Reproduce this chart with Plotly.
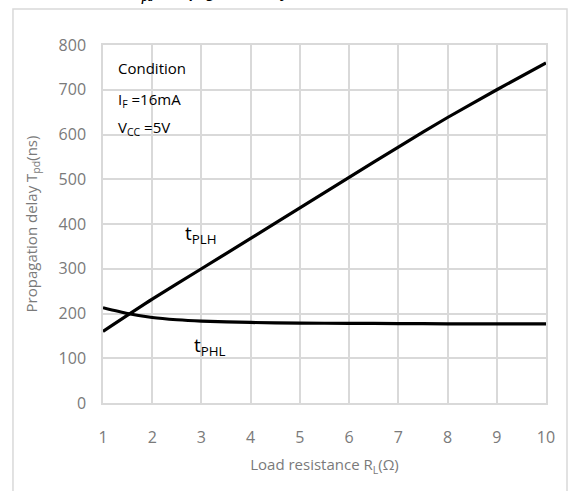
import plotly.graph_objects as go

r_load = [1, 2, 3, 4, 5, 6, 7, 8, 9, 10]
t_plh = [160, 232, 300, 368, 436, 504, 572, 638, 700, 760]
r_phl = [1, 1.5, 2, 2.5, 3, 4, 5, 6, 7, 8, 9, 10]
t_phl = [213, 200, 191, 186, 183, 180, 178.5, 178, 177.5, 177, 177, 177]

x_ticks = [1, 2, 3, 4, 5, 6, 7, 8, 9, 10]
y_ticks = [0, 100, 200, 300, 400, 500, 600, 700, 800]

fig = go.Figure()
fig.add_trace(go.Scatter(x=r_load, y=t_plh, mode="lines", line=dict(color="black", width=3.2, shape="spline", smoothing=0.6), name="tPLH"))
fig.add_trace(go.Scatter(x=r_phl, y=t_phl, mode="lines", line=dict(color="black", width=3.2, shape="spline", smoothing=0.6), name="tPHL"))

grid = "#d9d9d9"
gray = "#7a7a7a"
tickfont = dict(family="Open Sans", size=16, color=gray)
fig.update_layout(
    width=577, height=491,
    margin=dict(l=103, r=31, t=45, b=88),
    paper_bgcolor="white", plot_bgcolor="white",
    showlegend=False,
    xaxis=dict(range=[1, 10], tickvals=x_ticks, showgrid=True, gridcolor=grid, gridwidth=1.5,
               zeroline=False, showline=True, linecolor=grid, linewidth=1.5, mirror=True,
               tickfont=tickfont, ticks="", ticklabelstandoff=19,
               title=dict(text="Load resistance R<sub>L</sub>(Ω)", font=dict(family="Open Sans", size=15, color=gray), standoff=13)),
    yaxis=dict(range=[0, 800], tickvals=y_ticks, showgrid=True, gridcolor=grid, gridwidth=1.5,
               zeroline=False, showline=True, linecolor=grid, linewidth=1.5, mirror=True,
               tickfont=tickfont, ticks="", ticklabelstandoff=12,
               title=dict(text="Propagation delay T<sub>pd</sub>(ns)", font=dict(family="Open Sans", size=15, color=gray), standoff=17)),
)

txt = dict(family="Open Sans", size=15, color="black")
fig.add_annotation(x=1.27, y=748, text="Condition", showarrow=False, xanchor="left", font=txt)
fig.add_annotation(x=1.27, y=677, text="I<sub>F</sub> =16mA", showarrow=False, xanchor="left", font=txt)
fig.add_annotation(x=1.27, y=614, text="V<sub>CC</sub> =5V", showarrow=False, xanchor="left", font=txt)
fig.add_annotation(x=2.63, y=378, text="t<sub>PLH</sub>", showarrow=False, xanchor="left", font=dict(family="Open Sans", size=19, color="black"))
fig.add_annotation(x=2.8, y=128, text="t<sub>PHL</sub>", showarrow=False, xanchor="left", font=dict(family="Open Sans", size=19, color="black"))

fig.add_annotation(x=0.39, y=1.11, xref="paper", yref="paper", yanchor="bottom",
                   text="<b><i>t<sub>pd</sub> – Propagation delay vs. load resistance</i></b>",
                   showarrow=False, font=dict(family="Open Sans", size=14, color="black"))

fig.add_shape(type="rect", xref="paper", yref="paper", x0=-0.2032, x1=1.0474, y0=-0.27, y1=1.1006,
              line=dict(color="#d9d9d9", width=1.5), fillcolor="rgba(0,0,0,0)", layer="above")

fig.write_html("out.html", config={"displayModeBar": False},
               post_script="document.body.style.margin='0';document.body.style.padding='0';")
